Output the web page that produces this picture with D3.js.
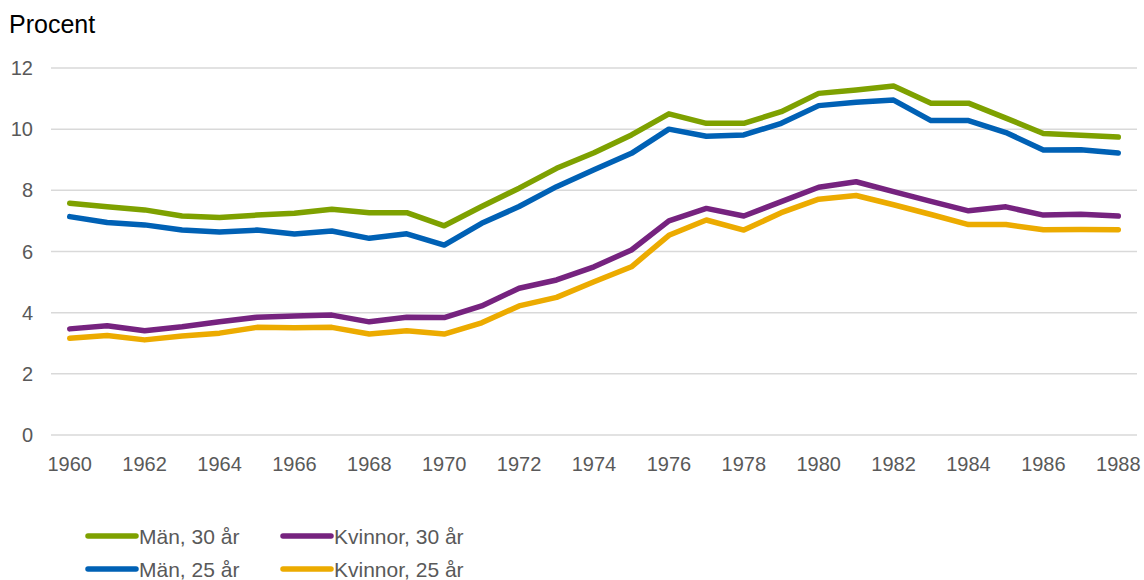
<!DOCTYPE html>
<html>
<head>
<meta charset="utf-8">
<script src="https://cdn.jsdelivr.net/npm/d3@7"></script>
<style>
  body { margin: 0; background: #fff; }
  svg text { font-family: "Liberation Sans", Arial, sans-serif; }
</style>
</head>
<body>
<div id="chart"></div>
<script>
const years = d3.range(1960, 1989);
const man30 = [7.58, 7.46, 7.36, 7.16, 7.11, 7.19, 7.25, 7.38, 7.27, 7.27, 6.84, 7.47, 8.07, 8.72, 9.23, 9.81, 10.5, 10.19, 10.19, 10.57, 11.17, 11.28, 11.41, 10.85, 10.85, 10.36, 9.86, 9.8, 9.74];
const man25 = [7.14, 6.95, 6.87, 6.7, 6.64, 6.7, 6.57, 6.67, 6.43, 6.58, 6.21, 6.92, 7.47, 8.12, 8.67, 9.21, 10.0, 9.77, 9.81, 10.19, 10.77, 10.88, 10.95, 10.28, 10.28, 9.89, 9.32, 9.33, 9.22];
const kv30 = [3.47, 3.57, 3.41, 3.54, 3.7, 3.85, 3.89, 3.92, 3.7, 3.85, 3.84, 4.22, 4.8, 5.07, 5.5, 6.05, 7.0, 7.41, 7.16, 7.63, 8.1, 8.28, 7.96, 7.64, 7.33, 7.46, 7.19, 7.22, 7.16];
const kv25 = [3.16, 3.25, 3.11, 3.24, 3.33, 3.52, 3.51, 3.52, 3.3, 3.41, 3.3, 3.67, 4.22, 4.5, 5.01, 5.5, 6.53, 7.03, 6.7, 7.27, 7.71, 7.83, 7.53, 7.21, 6.88, 6.88, 6.71, 6.72, 6.71];
const yTicks = [0, 2, 4, 6, 8, 10, 12];
const xTicks = d3.range(1960, 1989, 2);

const series = [
  { name: 'Män, 30 år',     values: man30, color: '#7ea100' },
  { name: 'Män, 25 år',     values: man25, color: '#0061b5' },
  { name: 'Kvinnor, 30 år', values: kv30,  color: '#76237f' },
  { name: 'Kvinnor, 25 år', values: kv25,  color: '#ecab00' },
];

const W = 1144, H = 580;
const svg = d3.select('#chart').append('svg').attr('width', W).attr('height', H);

const x = d3.scalePoint().domain(years).range([51, 1137]).padding(0.5);
const y = d3.scaleLinear().domain([0, 12]).range([435, 68]);

// grid
svg.append('g').selectAll('line').data(yTicks).join('line')
  .attr('x1', 51).attr('x2', 1137)
  .attr('y1', d => y(d)).attr('y2', d => y(d))
  .attr('stroke', '#d9d9d9').attr('stroke-width', 1.5);

// y labels
svg.append('g').selectAll('text').data(yTicks).join('text')
  .attr('x', 33).attr('y', d => y(d) + 7)
  .attr('text-anchor', 'end')
  .style('font-size', '20px').style('fill', '#595959')
  .text(d => d);

// x labels
svg.append('g').selectAll('text').data(xTicks).join('text')
  .attr('x', d => x(d)).attr('y', 471)
  .attr('text-anchor', 'middle')
  .style('font-size', '20px').style('fill', '#595959')
  .text(d => d);

svg.append('text').attr('x', 9).attr('y', 33)
  .style('font-size', '25px').style('fill', '#000')
  .text('Procent');

const line = d3.line().x((d, i) => x(years[i])).y(d => y(d));

svg.append('g').selectAll('path').data(series).join('path')
  .attr('d', d => line(d.values))
  .attr('fill', 'none')
  .attr('stroke', d => d.color)
  .attr('stroke-width', 5.5)
  .attr('stroke-linejoin', 'round')
  .attr('stroke-linecap', 'round');

// legend
const legendPos = [[88, 536], [88, 569], [283, 536], [283, 569]];
const lg = svg.append('g').selectAll('g').data(series).join('g')
  .attr('transform', (d, i) => `translate(${legendPos[i][0]},${legendPos[i][1]})`);
lg.append('line').attr('x1', 0).attr('x2', 48)
  .attr('stroke', d => d.color).attr('stroke-width', 5.5).attr('stroke-linecap', 'round');
lg.append('text').attr('x', 51).attr('y', 7.5)
  .style('font-size', '21px').style('fill', '#595959')
  .text(d => d.name);
</script>
</body>
</html>
